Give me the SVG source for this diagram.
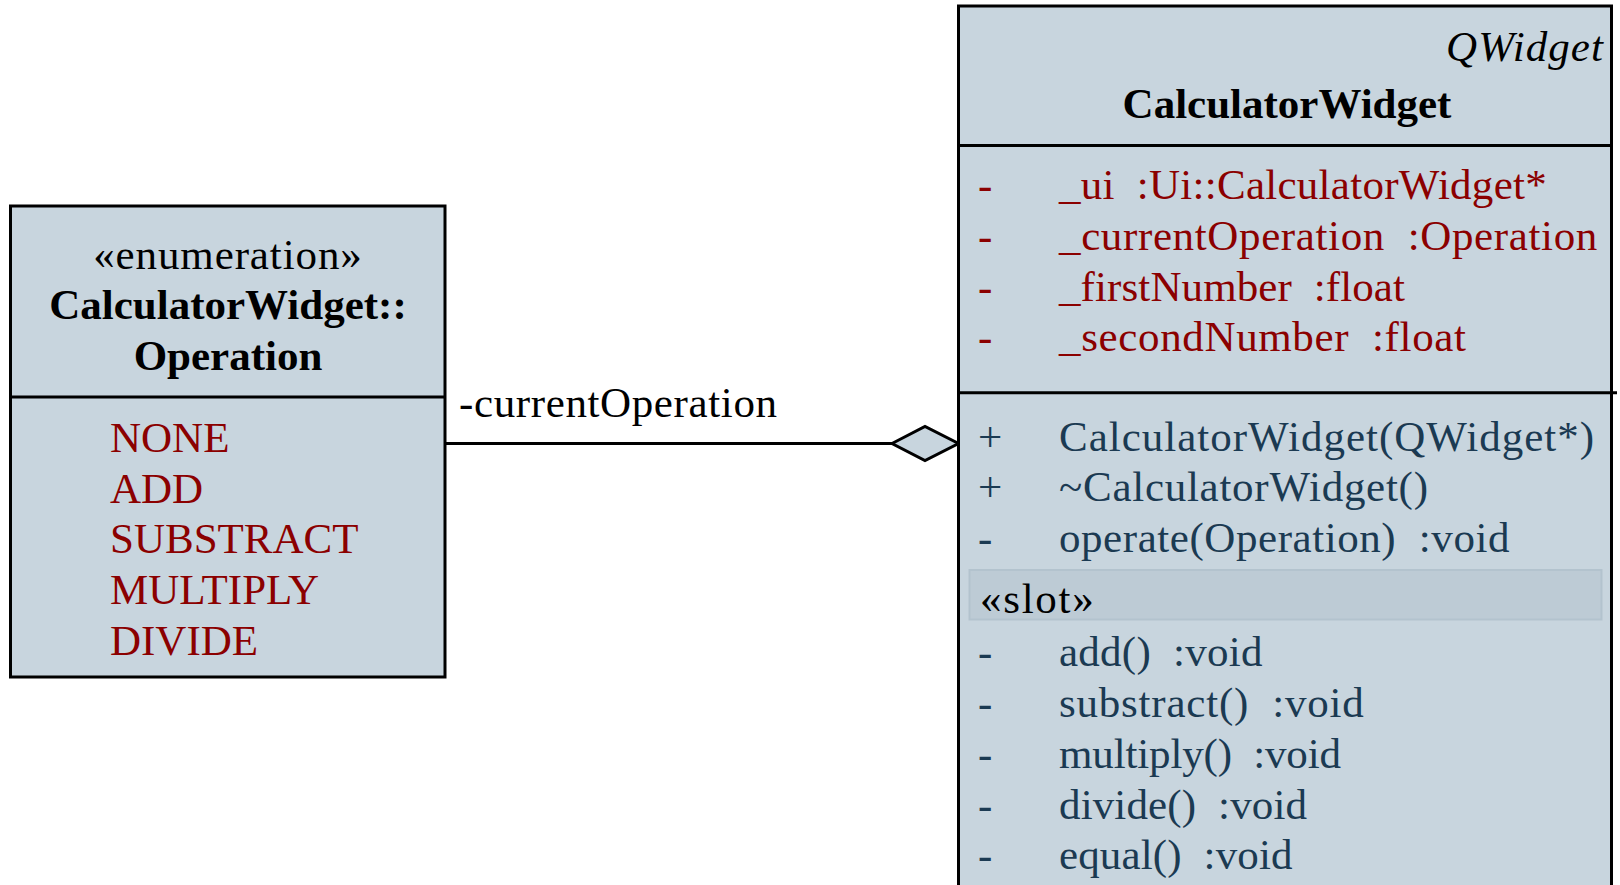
<svg xmlns="http://www.w3.org/2000/svg" width="1620" height="885" viewBox="0 0 1620 885">
<style>
.box{fill:#c8d5de;stroke:#000;stroke-width:3}
.div{stroke:#000;stroke-width:3}
text{font-family:"Liberation Serif","Times New Roman",serif;font-size:43px}
.b{font-weight:bold;fill:#000}
.st{fill:#000}
.attr{fill:#8b0000}
.op{fill:#1b3a52}
.slot{fill:#bdcbd5;stroke:#b3c3ce;stroke-width:2}
</style>
<rect width="1620" height="885" fill="#ffffff"/>
<g id="connectors">
<line x1="445" y1="443.5" x2="892" y2="443.5" stroke="#000" stroke-width="3"/>
<polygon points="892,443.5 925,426.5 958.5,443.5 925,460.5" fill="#c8d5de" stroke="#000" stroke-width="3" stroke-linejoin="miter"/>
<text x="459" y="416.5" class="st" textLength="318" lengthAdjust="spacing">-currentOperation</text>
</g>
<g id="enum-operation">
<rect class="box" x="10.5" y="206" width="434.5" height="471"/>
<line class="div" x1="10.5" y1="397" x2="445" y2="397"/>
<text x="227.5" y="269.3" class="st" text-anchor="middle" textLength="268.6" lengthAdjust="spacing">«enumeration»</text>
<text x="228" y="319.3" class="b" text-anchor="middle">CalculatorWidget::</text>
<text x="228" y="370" class="b" text-anchor="middle">Operation</text>
<text x="110" y="451.7" class="attr">NONE</text>
<text x="110" y="502.7" class="attr">ADD</text>
<text x="110" y="553.3" class="attr">SUBSTRACT</text>
<text x="110" y="604.3" class="attr">MULTIPLY</text>
<text x="110" y="655" class="attr">DIVIDE</text>
</g>
<g id="calculator-widget">
<rect class="box" x="958.5" y="6" width="653" height="900"/>
<line class="div" x1="958.5" y1="145.5" x2="1611.5" y2="145.5"/>
<line class="div" x1="958.5" y1="392.7" x2="1617" y2="392.7"/>
<text x="1603" y="60.5" class="st" font-style="italic" text-anchor="end" textLength="157" lengthAdjust="spacing">QWidget</text>
<text x="1287" y="118" class="b" text-anchor="middle">CalculatorWidget</text>
<text x="978" y="199.4" class="attr">-</text><text x="1059" y="199.4" class="attr" textLength="487.7" lengthAdjust="spacing">_ui&#160; :Ui::CalculatorWidget*</text>
<text x="978" y="250" class="attr">-</text><text x="1059" y="250" class="attr" textLength="538.3" lengthAdjust="spacing">_currentOperation&#160; :Operation</text>
<text x="978" y="300.7" class="attr">-</text><text x="1059" y="300.7" class="attr" textLength="346" lengthAdjust="spacing">_firstNumber&#160; :float</text>
<text x="978" y="351.3" class="attr">-</text><text x="1059" y="351.3" class="attr" textLength="407" lengthAdjust="spacing">_secondNumber&#160; :float</text>
<text x="978" y="450.5" class="op">+</text><text x="1059" y="450.5" class="op" textLength="535" lengthAdjust="spacing">CalculatorWidget(QWidget*)</text>
<text x="978" y="501.2" class="op">+</text><text x="1059" y="501.2" class="op" textLength="369" lengthAdjust="spacing">~CalculatorWidget()</text>
<text x="978" y="551.9" class="op">-</text><text x="1059" y="551.9" class="op" textLength="450.5" lengthAdjust="spacing">operate(Operation)&#160; :void</text>
<rect class="slot" x="969.5" y="570" width="632" height="49.5"/>
<text x="980" y="613" class="st" textLength="113.7" lengthAdjust="spacing">«slot»</text>
<text x="978" y="666.4" class="op">-</text><text x="1059" y="666.4" class="op" textLength="203.5" lengthAdjust="spacing">add()&#160; :void</text>
<text x="978" y="717.1" class="op">-</text><text x="1059" y="717.1" class="op" textLength="304.8" lengthAdjust="spacing">substract()&#160; :void</text>
<text x="978" y="767.8" class="op">-</text><text x="1059" y="767.8" class="op" textLength="282" lengthAdjust="spacing">multiply()&#160; :void</text>
<text x="978" y="818.5" class="op">-</text><text x="1059" y="818.5" class="op" textLength="248" lengthAdjust="spacing">divide()&#160; :void</text>
<text x="978" y="869.2" class="op">-</text><text x="1059" y="869.2" class="op" textLength="233.5" lengthAdjust="spacing">equal()&#160; :void</text>
</g>
</svg>
